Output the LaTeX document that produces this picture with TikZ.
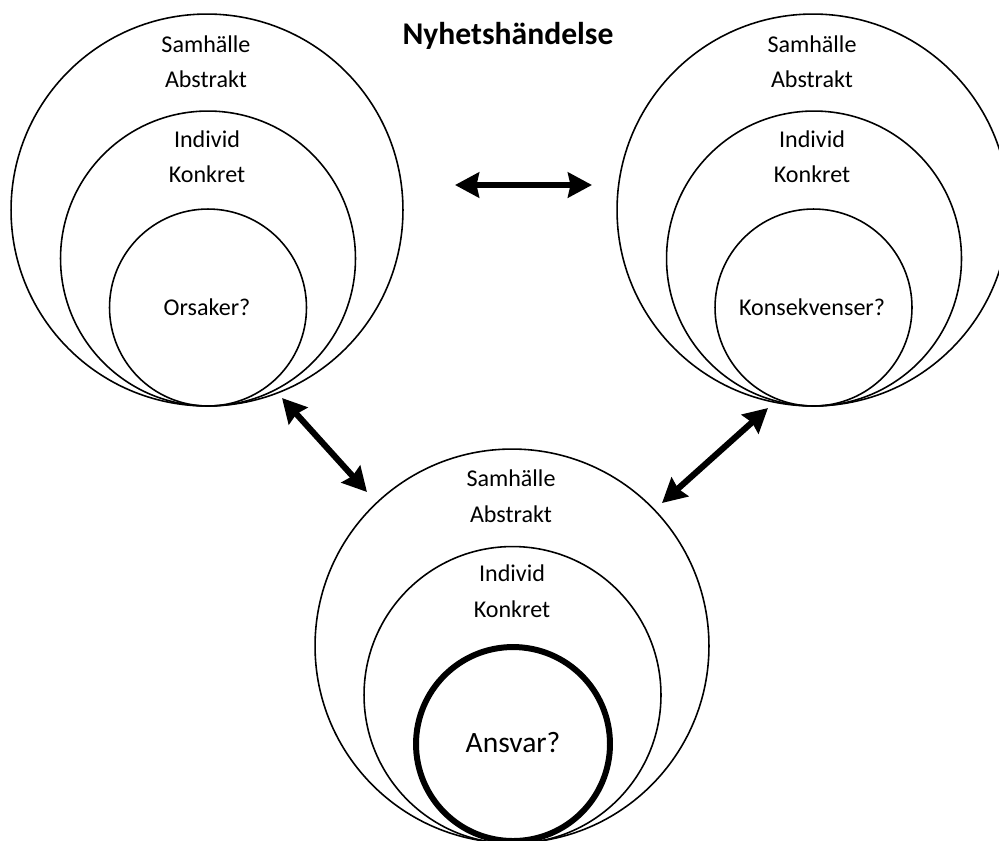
\documentclass[tikz,border=0pt]{standalone}
\usepackage{fontspec}
\setmainfont{Carlito}
\usetikzlibrary{arrows.meta}
\begin{document}
\begin{tikzpicture}[x=0.02cm, y=-0.02cm, >={Stealth[length=0.48cm,width=0.5cm,inset=0.05cm]}, line join=round, font=\fontsize{13.7}{16}\selectfont]
  \tikzset{ring/.style={draw, circle, inner sep=0pt, line width=0.9pt},
           word/.style={anchor=base},
           link/.style={<->, line width=3.5pt}}
  \clip (0,0) rectangle (999,840);
  \node[word, font=\fontsize{18}{20}\selectfont\bfseries] (title) at (508,44) {Nyhetshändelse};
  % left: orsaker
  \node[ring, minimum size=7.84cm] (lo) at (207,210) {};
  \node[ring, minimum size=5.9cm] (lm) at (208,258.5) {};
  \node[ring, minimum size=3.94cm] (li) at (208,307.5) {};
  \node[word] (l1) at (206,52) {Samhälle};
  \node[word] (l2) at (206,87) {Abstrakt};
  \node[word] (l3) at (207,147) {Individ};
  \node[word] (l4) at (207,182) {Konkret};
  \node[word] (l5) at (207,315) {Orsaker?};
  % right: konsekvenser
  \node[ring, minimum size=7.84cm] (ro) at (813,210) {};
  \node[ring, minimum size=5.9cm] (rm) at (814,258.5) {};
  \node[ring, minimum size=3.94cm] (ri) at (813.5,307.5) {};
  \node[word] (r1) at (812,52) {Samhälle};
  \node[word] (r2) at (812,87) {Abstrakt};
  \node[word] (r3) at (812,147) {Individ};
  \node[word] (r4) at (812,182) {Konkret};
  \node[word] (r5) at (812,315) {Konsekvenser?};
  % bottom: ansvar
  \node[ring, minimum size=7.88cm] (bo) at (512,646) {};
  \node[ring, minimum size=5.94cm] (bm) at (512.5,695) {};
  \node[ring, minimum size=3.88cm, line width=3.4pt] (bi) at (513,744) {};
  \node[word] (b1) at (511,486) {Samhälle};
  \node[word] (b2) at (511,522) {Abstrakt};
  \node[word] (b3) at (512,581) {Individ};
  \node[word] (b4) at (512,617) {Konkret};
  \node[word, font=\fontsize{16.8}{19}\selectfont] (b5) at (513,752) {Ansvar?};
  % arrows
  \coordinate (h1) at (455,185);
  \coordinate (h2) at (592,185);
  \coordinate (d1) at (282,398);
  \coordinate (d2) at (367,492);
  \coordinate (e1) at (768,408);
  \coordinate (e2) at (662,503);
  \draw[link] (h1) -- (h2);
  \draw[link] (d1) -- (d2);
  \draw[link] (e1) -- (e2);
\end{tikzpicture}
\end{document}
